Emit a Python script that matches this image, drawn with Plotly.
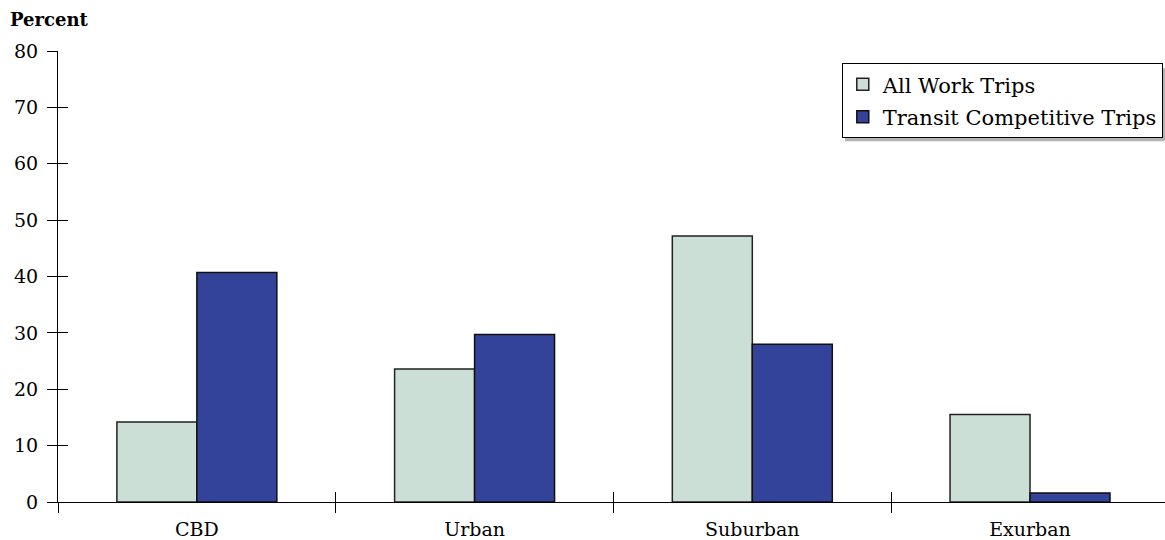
import plotly.graph_objects as go

# Share of trips by area type
categories = ["CBD", "Urban", "Suburban", "Exurban"]
all_work_trips = [14.2, 23.6, 47.2, 15.5]
transit_competitive = [40.7, 29.7, 28.0, 1.6]
y_ticks = [0, 10, 20, 30, 40, 50, 60, 70, 80]

FONT = "DejaVu Serif"
idx = list(range(len(categories)))
bounds = [i - 0.5 for i in idx]
x_range = [-0.5, 3.486]

fig = go.Figure()
fig.add_trace(go.Bar(
    name="All Work Trips", x=idx, y=all_work_trips,
    marker=dict(color="#cbdfd7", line=dict(color="#222222", width=1.5)),
    legendgroup="a",
))
fig.add_trace(go.Bar(
    name="Transit Competitive Trips", x=idx, y=transit_competitive,
    marker=dict(color="#33439a", line=dict(color="#111111", width=1.5)),
    legendgroup="b",
))
# Empty helper traces so the overlay axes (inner ticks, category labels) render
for xa, ya in (("x2", "y2"), ("x3", "y")):
    fig.add_trace(go.Scatter(x=[None], y=[None], xaxis=xa, yaxis=ya,
                             showlegend=False, hoverinfo="skip"))

axis_font = dict(family=FONT, size=19, color="black")

fig.update_layout(
    width=1165, height=540,
    margin=dict(l=58, r=0, t=51, b=38),
    paper_bgcolor="white", plot_bgcolor="white",
    barmode="group", bargap=0.424, bargroupgap=0,
    font=axis_font,
    xaxis=dict(
        range=x_range, tickvals=bounds, ticktext=[""] * len(bounds),
        ticks="outside", ticklen=10, tickcolor="black", tickwidth=1,
        showline=True, linecolor="black", linewidth=1,
        showgrid=False, zeroline=False,
    ),
    xaxis2=dict(
        overlaying="x", range=x_range, tickvals=bounds,
        ticktext=[""] * len(bounds), ticks="inside", ticklen=10,
        tickcolor="black", tickwidth=1, showline=False,
        showgrid=False, zeroline=False,
    ),
    xaxis3=dict(
        overlaying="x", range=x_range, tickvals=idx, ticktext=categories,
        ticks="", showline=False, showgrid=False, zeroline=False,
        ticklabelstandoff=14, tickfont=axis_font,
    ),
    yaxis=dict(
        range=[0, 80], tickvals=y_ticks,
        ticks="outside", ticklen=10, tickcolor="black", tickwidth=1,
        showline=True, linecolor="black", linewidth=1,
        showgrid=False, zeroline=False, tickfont=axis_font,
        ticklabelstandoff=5,
    ),
    yaxis2=dict(
        overlaying="y", range=[0, 80], tickvals=y_ticks,
        ticktext=[""] * len(y_ticks), ticks="inside", ticklen=10,
        tickcolor="black", tickwidth=1, showline=False,
        showgrid=False, zeroline=False,
    ),
    legend=dict(
        x=0.998, y=0.973, xanchor="right", yanchor="top",
        bgcolor="white", bordercolor="black", borderwidth=1,
        font=dict(family=FONT, size=21, color="black"),
        traceorder="grouped", tracegroupgap=2,
    ),
    showlegend=True,
)

# Drop shadow behind the legend box
fig.add_shape(
    type="rect", xref="paper", yref="paper",
    x0=0.711, x1=1.01, y0=0.800, y1=0.962,
    fillcolor="#b3b3b3", line=dict(width=0), layer="below",
)

# Axis title above the value axis
fig.add_annotation(
    text="<b>Percent</b>", xref="paper", yref="paper",
    x=0, y=1, xshift=-50, yshift=19, xanchor="left", yanchor="bottom",
    showarrow=False, font=dict(family=FONT, size=18, color="black"),
)

fig.write_html("out.html")
